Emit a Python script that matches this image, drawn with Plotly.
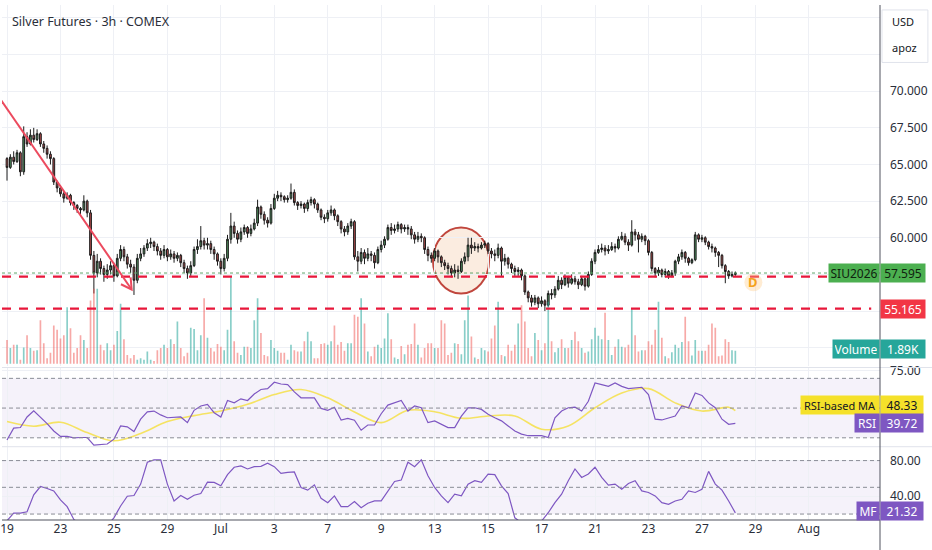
import plotly.graph_objects as go

# ---- data (3h bars, bar 0 = Jun 19) ----
first_open = 65.4
closes = [
    64.8, 65.5, 65.2, 65.8, 64.5, 66.9, 66.4, 67.0, 66.7, 67.1,
    66.4, 66.1, 65.7, 65.4, 63.8, 63.4, 63.0, 62.7, 62.9, 62.4,
    62.2, 62.0, 61.9, 62.5, 61.7, 58.8, 57.6, 58.4, 57.9, 57.5,
    57.8, 58.1, 57.4, 58.6, 59.2, 58.7, 58.2, 58.0, 57.1, 58.6,
    58.9, 59.3, 59.6, 59.7, 59.4, 59.1, 58.8, 59.2, 58.7, 58.9,
    58.6, 58.8, 58.3, 57.9, 57.6, 58.1, 59.2, 59.4, 59.8, 59.5,
    59.6, 59.2, 58.9, 58.4, 57.9, 58.6, 59.9, 60.8, 60.3, 59.9,
    60.4, 60.7, 60.3, 60.6, 61.0, 62.1, 61.6, 61.2, 61.0, 62.0,
    62.7, 62.9, 62.8, 62.6, 62.7, 63.1, 62.4, 62.2, 62.3, 62.0,
    62.4, 62.6, 62.3, 61.9, 61.4, 61.3, 61.7, 61.9, 61.5, 61.1,
    60.6, 60.4, 60.8, 61.1, 58.7, 58.4, 59.0, 58.6, 58.9, 58.8,
    58.3, 59.2, 59.5, 59.9, 60.7, 60.5, 60.6, 60.9, 60.6, 60.7,
    60.6, 60.2, 59.9, 60.1, 60.0, 59.2, 58.8, 58.6, 59.1, 58.7,
    58.3, 58.1, 57.9, 57.6, 57.8, 57.7, 58.4, 58.7, 59.5, 59.3,
    59.4, 59.3, 59.5, 59.6, 59.1, 58.9, 58.8, 59.3, 58.4, 58.6,
    58.2, 57.9, 57.7, 57.8, 57.4, 56.3, 55.9, 55.6, 55.9, 55.5,
    55.7, 55.4, 56.2, 56.1, 56.5, 57.1, 56.8, 57.3, 56.9, 57.2,
    57.0, 56.8, 57.2, 56.7, 57.5, 58.4, 59.0, 59.2, 59.3, 59.1,
    59.2, 59.4, 59.3, 59.9, 60.1, 59.7, 59.5, 60.4, 60.2, 59.9,
    60.1, 59.8, 59.0, 57.9, 57.6, 57.8, 57.5, 57.7, 57.4, 57.6,
    58.4, 58.7, 59.0, 58.6, 58.3, 58.5, 60.2, 59.9, 60.0, 59.7,
    59.4, 59.3, 59.0, 58.8, 58.1, 57.7, 57.4, 57.5, 57.595,
]
highs = [
    65.5, 65.7, 65.9, 66.0, 65.9, 67.6, 67.2, 67.4, 67.5, 67.4,
    67.2, 66.6, 66.3, 65.9, 65.5, 63.9, 63.6, 63.2, 63.1, 63.0,
    62.5, 62.3, 62.1, 62.9, 62.6, 61.9, 59.1, 58.9, 58.6, 58.1,
    58.2, 58.4, 58.3, 58.9, 59.5, 59.4, 58.9, 58.5, 58.2, 58.9,
    59.3, 59.5, 59.9, 60.0, 59.8, 59.6, 59.3, 59.5, 59.3, 59.2,
    59.1, 59.0, 58.9, 58.5, 58.1, 58.4, 59.4, 59.9, 60.8, 60.0,
    60.0, 59.8, 59.4, 59.0, 58.6, 58.9, 60.2, 61.7, 61.1, 60.5,
    60.7, 60.9, 60.8, 60.9, 61.3, 62.6, 62.2, 61.8, 61.4, 62.3,
    63.0, 63.2, 63.1, 62.9, 62.9, 63.7, 63.3, 62.5, 62.5, 62.4,
    62.6, 62.8, 62.7, 62.4, 62.0, 61.6, 61.9, 62.2, 62.0, 61.6,
    61.2, 60.8, 61.0, 61.3, 61.2, 59.1, 59.3, 59.2, 59.3, 59.1,
    59.0, 59.4, 59.8, 60.1, 60.9, 61.0, 60.9, 61.1, 61.0, 60.9,
    60.9, 60.8, 60.4, 60.4, 60.3, 60.1, 59.4, 59.0, 59.3, 59.2,
    58.8, 58.5, 58.3, 58.1, 58.2, 58.1, 58.6, 59.0, 60.0, 60.0,
    59.7, 59.6, 59.7, 59.8, 59.7, 59.3, 59.2, 59.6, 59.4, 58.9,
    58.7, 58.3, 58.1, 58.0, 57.9, 57.5, 56.4, 56.1, 56.1, 56.0,
    56.0, 55.8, 56.4, 56.5, 56.7, 57.4, 57.3, 57.5, 57.4, 57.5,
    57.4, 57.2, 57.4, 57.3, 57.7, 58.6, 59.2, 59.5, 59.6, 59.5,
    59.5, 59.7, 59.6, 60.1, 60.4, 60.3, 59.9, 61.2, 60.6, 60.4,
    60.3, 60.2, 59.9, 59.1, 58.0, 58.0, 57.9, 57.9, 57.8, 57.8,
    58.5, 58.9, 59.2, 59.1, 58.7, 58.6, 60.4, 60.3, 60.2, 60.1,
    59.8, 59.6, 59.4, 59.1, 58.9, 58.2, 57.8, 57.7, 57.7,
]
lows = [
    63.9, 64.7, 65.0, 65.1, 64.2, 64.3, 66.2, 66.3, 66.5, 66.6,
    66.2, 65.8, 65.4, 65.0, 63.6, 63.1, 62.8, 62.4, 62.6, 62.2,
    61.9, 61.7, 61.6, 61.8, 61.4, 58.5, 56.2, 57.3, 57.5, 57.0,
    57.2, 57.5, 57.0, 57.3, 58.4, 58.4, 57.9, 57.6, 56.1, 56.9,
    58.4, 58.7, 59.1, 59.3, 59.1, 58.8, 58.5, 58.6, 58.4, 58.5,
    58.3, 58.4, 58.0, 57.6, 57.2, 57.4, 58.0, 58.9, 59.2, 59.2,
    59.2, 58.9, 58.5, 58.1, 57.5, 57.7, 58.4, 59.6, 60.0, 59.6,
    59.7, 60.2, 60.0, 60.1, 60.5, 60.8, 61.3, 60.9, 60.7, 60.9,
    61.9, 62.5, 62.5, 62.4, 62.4, 62.6, 62.2, 61.9, 62.0, 61.7,
    61.8, 62.2, 62.0, 61.7, 61.2, 61.0, 61.1, 61.5, 61.2, 60.8,
    60.3, 60.1, 60.2, 60.6, 58.5, 57.7, 58.2, 58.2, 58.4, 58.4,
    57.9, 58.2, 59.0, 59.3, 59.8, 60.2, 60.3, 60.4, 60.3, 60.4,
    60.2, 59.9, 59.6, 59.7, 59.7, 58.9, 58.4, 58.3, 58.4, 58.3,
    58.0, 57.8, 57.5, 57.3, 57.3, 57.2, 57.6, 58.2, 58.4, 58.9,
    59.1, 59.0, 59.2, 59.3, 58.9, 58.6, 58.4, 58.6, 57.4, 58.1,
    57.9, 57.6, 57.4, 57.4, 57.1, 56.1, 55.6, 55.3, 55.4, 55.2,
    55.3, 55.0, 55.3, 55.8, 55.9, 56.4, 56.5, 56.7, 56.6, 56.8,
    56.8, 56.5, 56.7, 56.4, 56.6, 57.4, 58.2, 58.9, 59.0, 58.8,
    58.9, 59.1, 59.0, 59.2, 59.8, 59.5, 59.1, 59.4, 59.8, 59.0,
    59.7, 59.5, 58.8, 57.7, 57.3, 57.4, 57.3, 57.3, 57.2, 57.3,
    57.4, 58.2, 58.5, 58.3, 58.1, 58.2, 58.4, 59.7, 59.7, 59.5,
    59.2, 59.0, 58.7, 58.0, 57.9, 56.9, 57.2, 57.3, 57.4,
]
volume = [  # thousands
    3.5, 2.3, 2.8, 2.8, 0.6, 2.4, 4.2, 2.3, 1.9, 2.0,
    6.4, 3.0, 0.8, 1.6, 5.6, 5.0, 3.7, 4.2, 8.3, 5.2,
    1.6, 2.3, 4.2, 3.5, 2.3, 9.3, 11.0, 11.0, 2.8, 2.0,
    3.0, 2.0, 2.8, 4.8, 8.8, 3.6, 1.3, 0.8, 1.3, 0.6,
    0.8, 0.6, 1.8, 0.6, 0.4, 2.0, 2.3, 2.8, 2.3, 3.6,
    2.9, 6.2, 2.3, 1.1, 1.6, 5.3, 5.1, 2.0, 4.2, 9.6,
    3.8, 2.3, 1.8, 2.9, 2.5, 2.0, 5.0, 12.7, 3.3, 1.6,
    1.3, 2.5, 2.5, 2.3, 6.4, 9.6, 4.5, 1.3, 1.1, 3.5,
    2.3, 1.9, 1.6, 1.6, 0.6, 2.8, 2.0, 1.8, 1.8, 3.3,
    4.7, 3.3, 0.8, 0.8, 2.9, 3.0, 2.8, 3.3, 5.6, 2.8,
    3.2, 1.9, 3.0, 3.0, 7.2, 6.9, 9.6, 5.9, 1.8, 1.1,
    2.5, 2.8, 2.3, 3.7, 7.4, 3.6, 0.9, 0.7, 2.6, 1.4,
    2.8, 2.9, 5.9, 2.8, 0.9, 2.3, 3.0, 3.0, 2.3, 2.3,
    6.4, 5.9, 1.3, 1.6, 3.0, 2.9, 1.4, 6.4, 10.0, 4.0,
    0.9, 0.7, 2.3, 2.0, 1.8, 3.7, 5.6, 9.1, 1.3, 1.1,
    2.8, 1.9, 2.8, 5.9, 8.6, 6.2, 2.3, 1.1, 4.5, 3.5,
    2.0, 3.0, 9.1, 3.3, 1.7, 2.3, 3.6, 2.3, 2.3, 3.5,
    4.7, 3.3, 2.3, 1.6, 1.8, 3.6, 5.3, 4.1, 3.6, 7.5,
    3.5, 1.3, 2.5, 3.6, 2.5, 2.4, 2.8, 8.1, 4.2, 1.8,
    2.0, 2.0, 3.3, 2.8, 5.0, 9.1, 3.8, 1.1, 0.8, 1.7,
    2.8, 2.3, 3.2, 6.9, 3.3, 1.2, 3.5, 1.9, 1.9, 1.9,
    2.8, 5.9, 5.3, 1.1, 1.2, 3.6, 3.2, 2.0, 1.89,
]

# indicators, sampled every 2nd bar
ind_bars = list(range(0, 219, 2))
rsi = [
    28.5, 36.5, 36.9, 44.0, 48.2, 44.0, 39.5, 34.6, 30.9, 30.9,
    30.0, 30.2, 30.2, 25.1, 25.4, 25.8, 29.1, 38.0, 37.4, 34.2,
    42.5, 47.5, 48.0, 45.4, 43.5, 44.0, 44.0, 40.2, 48.5, 51.4,
    52.5, 46.9, 44.0, 55.1, 53.5, 56.2, 55.1, 59.5, 62.5, 63.1,
    67.4, 66.2, 65.8, 60.9, 56.9, 56.9, 56.9, 49.8, 48.5, 50.6,
    42.0, 43.1, 41.8, 35.1, 38.6, 38.6, 46.2, 52.0, 53.4, 55.1,
    48.0, 51.4, 50.2, 40.2, 41.4, 39.1, 36.9, 36.9, 44.6, 50.2,
    50.2, 49.1, 45.8, 43.5, 41.4, 38.0, 34.6, 32.5, 31.4, 31.4,
    31.4, 30.2, 43.5, 48.0, 50.2, 50.6, 48.0, 54.6, 66.9, 65.8,
    64.6, 66.9, 64.6, 63.1, 63.5, 64.0, 59.1, 42.5, 42.0, 43.5,
    44.6, 51.4, 50.2, 60.2, 58.5, 53.5, 50.2, 42.5, 39.1, 39.72,
]
mf = [
    12.5, 21.1, 21.1, 22.6, 41.5, 50.9, 48.7, 46.0, 35.8, 28.3,
    14.0, 8.0, 8.0, 5.0, 5.0, 7.0, 15.8, 29.1, 40.0, 40.8,
    53.6, 78.1, 80.8, 80.8, 53.6, 34.7, 40.8, 36.6, 41.1, 43.0,
    55.8, 55.5, 51.7, 64.2, 72.5, 74.0, 70.6, 73.2, 73.6, 77.0,
    73.2, 65.7, 66.8, 67.2, 49.8, 46.8, 52.8, 37.7, 32.8, 40.4,
    28.3, 28.3, 34.0, 27.2, 32.1, 34.7, 34.7, 45.3, 56.6, 58.1,
    78.1, 73.2, 80.8, 63.0, 49.8, 40.4, 32.8, 42.3, 40.4, 53.6,
    57.4, 55.5, 64.9, 64.2, 51.7, 43.0, 15.8, 10.2, 8.0, 6.0,
    12.1, 21.5, 32.8, 42.3, 57.4, 70.6, 61.1, 64.9, 72.5, 61.1,
    52.5, 53.6, 47.9, 54.3, 57.4, 46.0, 44.2, 40.4, 32.8, 30.9,
    34.7, 36.6, 46.0, 44.2, 47.9, 67.9, 53.6, 46.8, 34.7, 21.32,
]
ma_bars = [0, 8, 16, 24, 32, 40, 48, 56, 64, 72, 80, 88, 96, 104, 112,
           120, 128, 136, 144, 152, 160, 168, 176, 184, 192, 200, 208, 216, 218]
rsi_ma = [40.9, 37.8, 40.5, 33.5, 28.0, 32.9, 40.9, 44.9, 48.0, 52.5, 59.1, 62.5,
          56.9, 47.4, 40.2, 48.5, 47.5, 43.1, 44.7, 44.7, 35.8, 38.0, 50.2, 60.2,
          63.1, 53.5, 48.0, 50.6, 48.33]

tick_bars = [0, 16, 32, 48, 64, 80, 96, 112, 128, 144, 160, 176, 192, 208, 224, 240]
tick_text = ["19", "23", "25", "29", "Jul", "3", "7", "9", "13", "15", "17",
             "21", "23", "27", "29", "Aug"]
price_ticks = [52.5, 55, 57.5, 60, 62.5, 65, 67.5, 70, 72.5, 75]
price_tick_text = ["", "", "", "60.000", "62.500", "65.000", "67.500", "70.000", "", ""]

last_price = 57.595
upper_line = 57.35
support = 55.165
last_volume = "1.89K"
d_mark = (223.4, 56.96)   # dividend/event marker position (bar, price)

bars = list(range(len(closes)))
opens = [first_open] + closes[:-1]

GRID = "#eef0f5"
TXT = "#2a2e39"
X_RANGE = [-1.5, 261.3]
vol_colors = ["rgba(38,166,154,0.55)" if c >= o else "rgba(239,83,80,0.5)"
              for o, c in zip(opens, closes)]

fig = go.Figure()
fig.add_trace(go.Bar(x=bars, y=volume, marker_color=vol_colors, marker_line_width=0,
                     width=0.5, xaxis="x", yaxis="y2", hoverinfo="skip"))
fig.add_trace(go.Candlestick(
    x=bars, open=opens, high=highs, low=lows, close=closes,
    increasing=dict(line=dict(color="#1c1c1c", width=1), fillcolor="#4e8f5d"),
    decreasing=dict(line=dict(color="#1c1c1c", width=1), fillcolor="#b04c4c"),
    whiskerwidth=0, xaxis="x", yaxis="y"))
fig.add_trace(go.Scatter(x=ma_bars, y=rsi_ma, mode="lines", xaxis="x2", yaxis="y3",
                         line=dict(color="rgba(245,222,60,0.8)", width=1.6, shape="spline")))
fig.add_trace(go.Scatter(x=ind_bars, y=rsi, mode="lines", xaxis="x2", yaxis="y3",
                         line=dict(color="#7e57c2", width=1.2)))
fig.add_trace(go.Scatter(x=ind_bars, y=mf, mode="lines", xaxis="x3", yaxis="y4",
                         line=dict(color="#7e57c2", width=1.2)))

xcommon = dict(range=X_RANGE, showgrid=True, gridcolor=GRID, tickvals=tick_bars,
               zeroline=False, showticklabels=False, ticks="", fixedrange=True)
ycommon = dict(side="right", showgrid=True, gridcolor=GRID, zeroline=False, ticks="",
               ticklabelstandoff=9, tickfont=dict(size=12, color=TXT))

fig.update_layout(
    width=932, height=550,
    margin=dict(l=0, r=52, t=0, b=30),
    paper_bgcolor="white", plot_bgcolor="white",
    showlegend=False, boxgap=0.25,
    font=dict(family="Noto Sans", size=12, color=TXT),
    xaxis=dict(**xcommon, anchor="y", rangeslider=dict(visible=False)),
    xaxis2=dict(**xcommon, anchor="y3"),
    xaxis3=dict(range=X_RANGE, showgrid=True, gridcolor=GRID, tickvals=tick_bars,
                ticktext=tick_text, zeroline=False, ticks="", anchor="y4",
                ticklabeloverflow="allow", tickfont=dict(size=12, color=TXT)),
    yaxis=dict(**ycommon, domain=[0.2981, 1], range=[51.22, 75.88], anchor="x",
               tickvals=price_ticks, ticktext=price_tick_text),
    yaxis2=dict(overlaying="y", range=[-0.4, 52.65], visible=False, anchor="x"),
    yaxis3=dict(**ycommon, domain=[0.1423, 0.2962], range=[24, 77.33], anchor="x2",
                tickvals=[75], ticktext=["75.00"]),
    yaxis4=dict(**ycommon, domain=[0, 0.1423], range=[13.33, 95.56], anchor="x3",
                tickvals=[40, 80], ticktext=["40.00", "80.00"]),
)

shapes = []
# indicator bands
for yref, lo, mid, hi in (("y3", 30, 50, 70), ("y4", 20, 50, 80)):
    shapes.append(dict(type="rect", xref="paper", x0=0, x1=1, yref=yref, y0=lo, y1=hi,
                       fillcolor="rgba(126,87,194,0.08)", line_width=0, layer="below"))
    for v in (lo, mid, hi):
        shapes.append(dict(type="line", xref="paper", x0=0, x1=1, yref=yref, y0=v, y1=v,
                           line=dict(color="#8a8d96", width=1, dash="4px,3px")))
# circle highlight
shapes.append(dict(type="circle", xref="x", yref="y", x0=127.5, x1=144.3, y0=56.2, y1=60.7,
                   fillcolor="rgba(243,200,165,0.35)", line=dict(color="#c0463d", width=2),
                   layer="below"))
# last price dotted line
shapes.append(dict(type="line", xref="paper", x0=0, x1=1, yref="y", y0=last_price, y1=last_price,
                   line=dict(color="#5da66a", width=1, dash="dot")))
# red dashed levels
for lvl in (upper_line, support):
    shapes.append(dict(type="line", xref="paper", x0=0, x1=0.99, yref="y", y0=lvl, y1=lvl,
                       line=dict(color="#e8173a", width=2.2, dash="9px,8px")))
# trend arrow
shapes.append(dict(type="line", xref="x", yref="y", x0=-3, y0=69.8, x1=37.3, y1=56.47,
                   line=dict(color="#ec4a5e", width=2)))
shapes.append(dict(type="path", xref="x", yref="y",
                   path="M 34.1,56.83 L 37.3,56.47 L 37.0,57.30",
                   line=dict(color="#ec4a5e", width=2)))
# halo behind the D marker
shapes.append(dict(type="circle", xref="x", yref="y", xsizemode="pixel", ysizemode="pixel",
                   xanchor=d_mark[0], yanchor=d_mark[1], x0=-9, x1=9, y0=-9, y1=9,
                   fillcolor="rgba(255,200,130,0.35)", line_width=0))
# pane separators and borders
for py in (366, 446):
    shapes.append(dict(type="line", xref="paper", yref="paper", x0=0, x1=1.06,
                       y0=1 - py / 520, y1=1 - py / 520, line=dict(color="#e0e3eb", width=1)))
shapes.append(dict(type="line", xref="paper", yref="paper", x0=1, x1=1, y0=-0.06, y1=1,
                   line=dict(color="#50535e", width=1)))
shapes.append(dict(type="line", xref="paper", yref="paper", x0=0, x1=1, y0=0, y1=0,
                   line=dict(color="#50535e", width=1)))
# currency box
shapes.append(dict(type="rect", xref="paper", yref="paper", x0=882 / 880, x1=928 / 880,
                   y0=1 - 58 / 520, y1=1 - 5 / 520, fillcolor="white",
                   line=dict(color="#e0e3eb", width=1)))
fig.update_layout(shapes=shapes)


def tag(text, y, yref, bg, fg, right_side, width, yshift=0, size=12):
    fig.add_annotation(text=text, x=1, xref="paper", y=y, yref=yref,
                       xanchor="left" if right_side else "right", yanchor="middle",
                       showarrow=False, bgcolor=bg, borderpad=2, width=width, height=14,
                       yshift=yshift, font=dict(size=size, color=fg))


tag("SIU2026", last_price, "y", "#4caf50", "#10220f", False, 46)
tag(f"{last_price:.3f}", last_price, "y", "#4caf50", "#10220f", True, 40)
tag(f"{support:.3f}", support, "y", "#f23645", "white", True, 40)
tag("Volume", 1.89, "y2", "#26a69a", "white", False, 42, yshift=2)
tag(last_volume, 1.89, "y2", "#26a69a", "white", True, 40, yshift=2)
tag("RSI-based MA", rsi_ma[-1], "y3", "#f5e12a", "#131722", False, 74, yshift=6, size=11)
tag(f"{rsi_ma[-1]:.2f}", rsi_ma[-1], "y3", "#f5e12a", "#131722", True, 38, yshift=6)
tag("RSI", rsi[-1], "y3", "#7e57c2", "white", False, 20)
tag(f"{rsi[-1]:.2f}", rsi[-1], "y3", "#7e57c2", "white", True, 38)
tag("MF", mf[-1], "y4", "#7e57c2", "white", False, 18, yshift=2)
tag(f"{mf[-1]:.2f}", mf[-1], "y4", "#7e57c2", "white", True, 38, yshift=2)

fig.add_annotation(text="Silver Futures · 3h · COMEX", x=8 / 880, y=1 - 17 / 520,
                   xref="paper", yref="paper", xanchor="left", yanchor="middle",
                   showarrow=False, font=dict(size=12.5, color="#2a2e39"))
fig.add_annotation(text="USD", x=890 / 880, y=1 - 17 / 520, xref="paper", yref="paper",
                   xanchor="left", yanchor="middle", showarrow=False,
                   font=dict(size=11, color="#131722"))
fig.add_annotation(text="apoz", x=890 / 880, y=1 - 43 / 520, xref="paper", yref="paper",
                   xanchor="left", yanchor="middle", showarrow=False,
                   font=dict(size=11, color="#131722"))
fig.add_annotation(text="<b>D</b>", x=d_mark[0], y=d_mark[1], xref="x", yref="y",
                   showarrow=False, font=dict(size=13, color="#f5a11c"))

# page body has a default margin; drop it so the chart sits at the window corner
fig.write_html("out.html", config={"displayModeBar": False},
               post_script="document.body.style.margin='0';")
